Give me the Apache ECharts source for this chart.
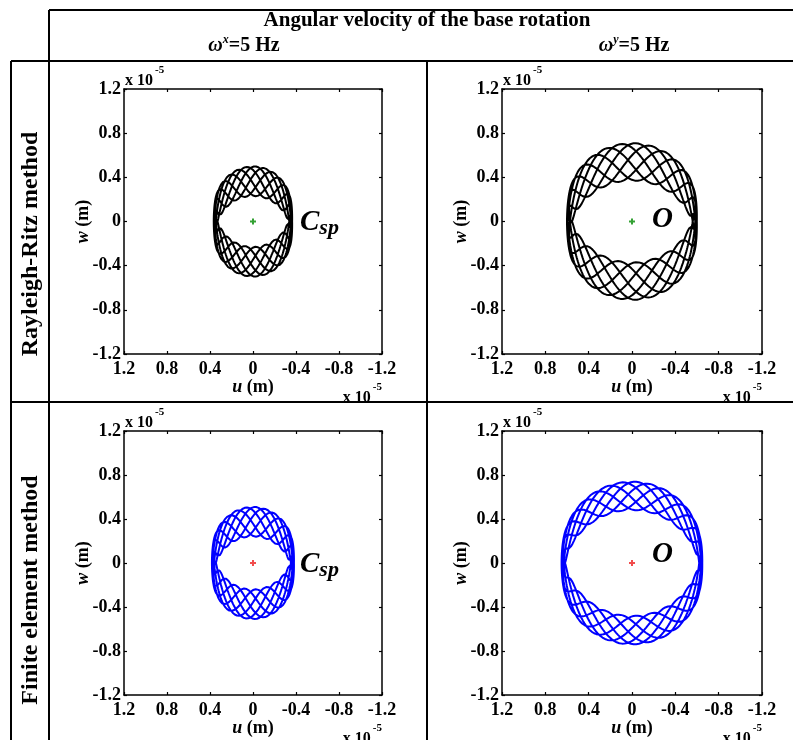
<!DOCTYPE html>
<html><head><meta charset="utf-8">
<script src="https://cdn.jsdelivr.net/npm/echarts@6/dist/echarts.min.js"></script>
<style>html,body{margin:0;padding:0;background:#fff}#c{width:793px;height:740px}</style>
</head><body><div id="c"></div>
<script>
// ---------------- data (displacements in units of 1e-5 m) ----------------
const tickValues = [1.2, 0.8, 0.4, 0, -0.4, -0.8, -1.2];
const headerTitle = 'Angular velocity of the base rotation';
const columnAxes = ['x', 'y'];            // omega^x, omega^y
const columnFreq = ['=5 Hz', '=5 Hz'];
const rowLabels = ['Rayleigh-Ritz method', 'Finite element method'];
const centreNames = ['C', 'O'];           // C_sp , O
const centrePoint = [0, 0];
// orbit parameters, order: RR-x, RR-y, FE-x, FE-y
const orbitSemiU   = [0.355, 0.585, 0.37, 0.635]; // half width of the orbit (u)
const orbitMeanW   = [0.365, 0.54, 0.375, 0.61];  // mean half height (w)
const orbitRippleW = [0.135, 0.17, 0.135, 0.13];  // half thickness of the ring at top/bottom
const orbitRippleU = [0.01, 0.015, 0.012, 0.015]; // small side ripple
const orbitWaveRatio = [4.1667, 4.1667, 4.1667, 4.8333]; // ripples per turn
const orbitTurns   = [6, 6, 6, 6];

function orbit(i) {
  const pts = [];
  const n = 720 * orbitTurns[i];
  for (let k = 0; k <= n; k++) {
    const t = 2 * Math.PI * orbitTurns[i] * k / n;
    const ph = orbitWaveRatio[i] * t;
    pts.push([orbitSemiU[i] * Math.cos(t) + orbitRippleU[i] * Math.cos(ph),
              orbitMeanW[i] * Math.sin(t) + orbitRippleW[i] * Math.sin(ph)]);
  }
  return pts;
}

// ---------------- layout & style ----------------
const FONT = '"Liberation Serif","Times New Roman",serif';
const lineColours = ['#000000', '#000000', '#0000ff', '#0000ff'];
const markerColours = ['#008a00', '#008a00', '#ee2020', '#ee2020'];
const panels = [
  {left: 124, top: 89, width: 258, height: 265},
  {left: 502, top: 89, width: 260, height: 265},
  {left: 124, top: 431, width: 258, height: 264},
  {left: 502, top: 431, width: 260, height: 264}
];
const PLUS = 'path://M-1,-3L1,-3L1,-1L3,-1L3,1L1,1L1,3L-1,3L-1,1L-3,1L-3,-1L-1,-1Z';
const fmt = v => String(Number(Number(v).toFixed(1)));

const chart = echarts.init(document.getElementById('c'), null, {renderer: 'canvas', width: 793, height: 740});

const grid = [], xAxis = [], yAxis = [], series = [];
panels.forEach((p, i) => {
  grid.push({left: p.left, top: p.top, width: p.width, height: p.height, containLabel: false, outerBoundsMode: 'none', show: false});
  const base = {
    gridIndex: i, type: 'value', min: tickValues[tickValues.length - 1], max: tickValues[0], interval: 0.4,
    splitLine: {show: false},
    axisLine: {show: true, onZero: false, lineStyle: {color: '#000', width: 1.5}},
    axisTick: {show: true, inside: true, length: 3, interval: 0, lineStyle: {color: '#000', width: 1.2}}
  };
  const lab = {show: true, interval: 0, color: '#000', fontFamily: FONT, fontWeight: 'bold', fontSize: 18,
               formatter: fmt, showMinLabel: true, showMaxLabel: true, hideOverlap: false};
  xAxis.push(Object.assign({}, base, {position: 'bottom', inverse: true, axisLabel: Object.assign({}, lab, {margin: 6})}));
  xAxis.push(Object.assign({}, base, {position: 'top', inverse: true, axisLabel: {show: false}}));
  yAxis.push(Object.assign({}, base, {position: 'left', axisLabel: Object.assign({}, lab, {margin: 3})}));
  yAxis.push(Object.assign({}, base, {position: 'right', axisLabel: {show: false}}));
  series.push({type: 'line', xAxisIndex: 2 * i, yAxisIndex: 2 * i, data: orbit(i), symbol: 'none', showSymbol: false,
               lineStyle: {color: lineColours[i], width: 2}, silent: true, animation: false, z: 2});
  series.push({type: 'scatter', xAxisIndex: 2 * i, yAxisIndex: 2 * i, data: [centrePoint], symbol: PLUS, symbolSize: 6,
               itemStyle: {color: markerColours[i]}, silent: true, animation: false, z: 3});
});

// ---------------- texts & table rules ----------------
const G = [];
function txt(x, y, text, st, extra) {
  const style = Object.assign({text: text, fontFamily: FONT, fontWeight: 'bold', fill: '#000'}, st);
  if (style.align) { style.textAlign = style.align; }
  if (style.verticalAlign) { style.textVerticalAlign = style.verticalAlign; }
  return Object.assign({type: 'text', x: x, y: y, silent: true, z: 10, style: style}, extra || {});
}
function rule(x1, y1, x2, y2) {
  return {type: 'line', silent: true, z: 20, shape: {x1: x1, y1: y1, x2: x2, y2: y2}, style: {stroke: '#000', lineWidth: 2}};
}
const richBase = (fs, extra) => Object.assign({fontFamily: FONT, fontWeight: 'bold', fill: '#000', fontSize: fs, lineHeight: fs, verticalAlign: 'bottom'}, extra || {});

G.push(txt(427, 21, headerTitle, {fontSize: 21, align: 'center', verticalAlign: 'middle'}));
const colCentres = [244, 634];
columnAxes.forEach((a, c) => {
  G.push(txt(colCentres[c], 46, '{w|ω}{s|' + a + '}{n|' + columnFreq[c] + '}', {
    fontSize: 20, align: 'center', verticalAlign: 'middle',
    rich: {
      w: richBase(20, {fontStyle: 'italic'}),
      s: richBase(12, {fontStyle: 'italic', padding: [0, 0, 10, 0]}),
      n: richBase(20)
    }
  }));
});
const rowCentres = [244, 590];
rowLabels.forEach((r, k) => {
  G.push(txt(31, rowCentres[k], r, {fontSize: 24, align: 'center', verticalAlign: 'middle'}, {rotation: Math.PI / 2}));
});

const expRich = {
  b: richBase(16),
  s: richBase(11, {padding: [0, 0, 13, 2]})
};
const centreLabelY = [119, 131, 119, 124];
panels.forEach((p, i) => {
  // x 10^-5 multipliers
  G.push(txt(p.left + 1, p.top, '{b|x 10}{s|-5}', {fontSize: 16, align: 'left', verticalAlign: 'bottom', rich: expRich}));
  G.push(txt(p.left + p.width, p.top + p.height + 51.6, '{b|x 10}{s|-5}', {fontSize: 16, align: 'right', verticalAlign: 'bottom', rich: expRich}));
  // axis names
  G.push(txt(p.left + p.width / 2, p.top + p.height + 33, '{i|u}{n| (m)}', {
    fontSize: 18, align: 'center', verticalAlign: 'middle',
    rich: {i: richBase(18, {fontStyle: 'italic', verticalAlign: 'middle'}), n: richBase(18, {verticalAlign: 'middle'})}
  }));
  G.push(txt(p.left - 41, p.top + p.height / 2, '{i|w}{n| (m)}', {
    fontSize: 18, align: 'center', verticalAlign: 'middle',
    rich: {i: richBase(18, {fontStyle: 'italic', verticalAlign: 'middle'}), n: richBase(18, {verticalAlign: 'middle'})}
  }, {rotation: Math.PI / 2}));
  // centre names
  if (i % 2 === 0) {
    G.push(txt(p.left + 176, p.top + centreLabelY[i], '{c|' + centreNames[0] + '}{s|sp}', {
      fontSize: 29, align: 'left', verticalAlign: 'top',
      rich: {c: richBase(29, {fontStyle: 'italic', verticalAlign: 'top'}),
             s: richBase(22, {fontStyle: 'italic', verticalAlign: 'top', padding: [9, 0, 0, 0]})}
    }));
  } else {
    G.push(txt(652, p.top + centreLabelY[i], centreNames[1], {fontSize: 29, fontStyle: 'italic', align: 'left', verticalAlign: 'middle'}));
  }
});

G.push(rule(49, 10, 793, 10));
G.push(rule(11, 61, 793, 61));
G.push(rule(11, 61, 11, 740));
G.push(rule(49, 10, 49, 740));
G.push(rule(427, 61, 427, 740));
G.push(rule(11, 402, 793, 402));

chart.setOption({
  animation: false,
  backgroundColor: '#ffffff',
  grid: grid, xAxis: xAxis, yAxis: yAxis, series: series,
  graphic: {elements: G}
});
</script>
</body></html>
